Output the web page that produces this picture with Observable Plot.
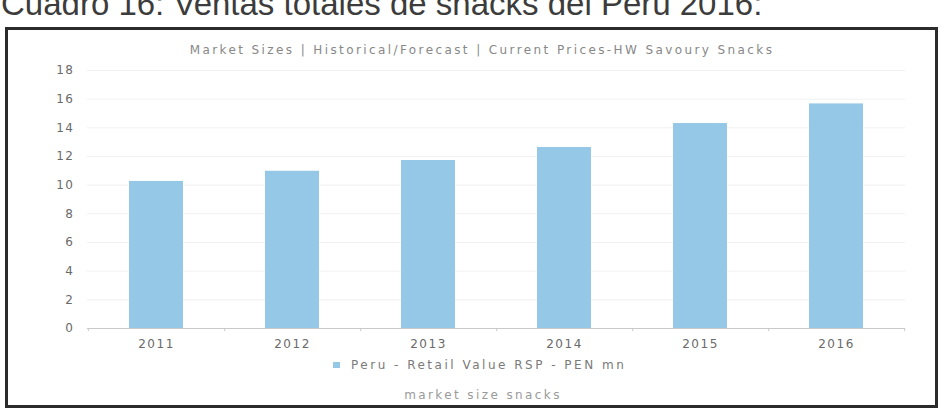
<!DOCTYPE html>
<html>
<head>
<meta charset="utf-8">
<script src="https://cdn.jsdelivr.net/npm/d3@7"></script>
<script src="https://cdn.jsdelivr.net/npm/@observablehq/plot@0.6"></script>
<style>
  html, body { margin: 0; padding: 0; background: #fff; }
  #wrap { position: relative; width: 952px; height: 411px; overflow: hidden; background: #fff; }
  #title { position: absolute; left: 1px; top: -13px; font-family: "Liberation Sans", Arial, sans-serif; font-size: 33px; line-height: 33px; color: #3c3c3c; white-space: nowrap; }
  #box { position: absolute; left: 5px; top: 27px; width: 933px; height: 381px; box-sizing: border-box; border: 3px solid #2b2b2b; }
  #ctitle { position: absolute; left: 0; width: 964px; top: 43px; text-align: center; font-family: "DejaVu Sans", sans-serif; font-size: 12px; line-height: 14px; letter-spacing: 2.4px; color: #888; white-space: nowrap; }
  #chart { position: absolute; left: 0; top: 55px; }
  #chart svg text { letter-spacing: 1.5px; }
  #legend { position: absolute; left: 333px; top: 358px; font-family: "DejaVu Sans", sans-serif; font-size: 12px; line-height: 14px; color: #7a7a7a; white-space: nowrap; letter-spacing: 2.5px; }
  #legend .sw { display: inline-block; width: 7px; height: 6px; margin-right: 11px; vertical-align: 1px; }
  #caption { position: absolute; left: 0; width: 966px; top: 388px; text-align: center; font-family: "DejaVu Sans", sans-serif; font-size: 12px; line-height: 14px; letter-spacing: 2.4px; color: #9a9a9a; white-space: nowrap; }
</style>
</head>
<body>
<div id="wrap">
  <div id="title"></div>
  <div id="box"></div>
  <div id="ctitle"></div>
  <div id="chart"></div>
  <div id="legend"></div>
  <div id="caption"></div>
</div>
<script>
const pageTitle = "Cuadro 16: Ventas totales de snacks del Perú 2016:";
const chartTitle = "Market Sizes | Historical/Forecast | Current Prices-HW Savoury Snacks";
const seriesName = "Peru - Retail Value RSP - PEN mn";
const captionText = "market size snacks";
const years = ["2011", "2012", "2013", "2014", "2015", "2016"];
const values = [10.26, 10.97, 11.72, 12.63, 14.3, 15.67];
const yTicks = [0, 2, 4, 6, 8, 10, 12, 14, 16, 18];
const barColor = "#95c8e6";

const data = years.map((year, i) => ({year, value: values[i]}));

document.getElementById("title").textContent = pageTitle;
document.getElementById("ctitle").textContent = chartTitle;
document.getElementById("caption").textContent = captionText;
const leg = document.getElementById("legend");
leg.innerHTML = `<span class="sw" style="background:${barColor}"></span>`;
leg.appendChild(document.createTextNode(seriesName));

const W = 952, mL = 87, mR = 47;
const step = (W - mL - mR) / (years.length - 0.6 + 0.6);

const chart = Plot.plot({
  width: W,
  height: 303,
  marginLeft: mL,
  marginRight: mR,
  marginTop: 15,
  marginBottom: 30,
  style: {fontFamily: "DejaVu Sans, sans-serif", background: "transparent", overflow: "visible"},
  x: {type: "band", domain: years, paddingInner: 0.6, paddingOuter: 0.3, label: null},
  y: {domain: [0, 18], label: null},
  marks: [
    Plot.gridY(yTicks, {stroke: "#f1f1f1", strokeOpacity: 1}),
    Plot.barY(data, {x: "year", y: "value", fill: barColor, inset: 0}),
    Plot.ruleY([0], {stroke: "#c9c9c9"}),
    Plot.ruleX(years, {x: d => d, y1: 0, y2: -0.22, dx: step / 2, stroke: "#c9c9c9"}),
    Plot.ruleX(years.slice(0, 1), {x: d => d, y1: 0, y2: -0.22, dx: -step / 2, stroke: "#c9c9c9"}),
    Plot.axisY(yTicks, {tickSize: 0, tickPadding: 13, fontSize: 12, fill: "#6a6a6a", label: null}),
    Plot.axisX({tickSize: 0, tickPadding: 11, fontSize: 12, fill: "#6a6a6a", label: null})
  ]
});
document.getElementById("chart").appendChild(chart);
</script>
</body>
</html>
